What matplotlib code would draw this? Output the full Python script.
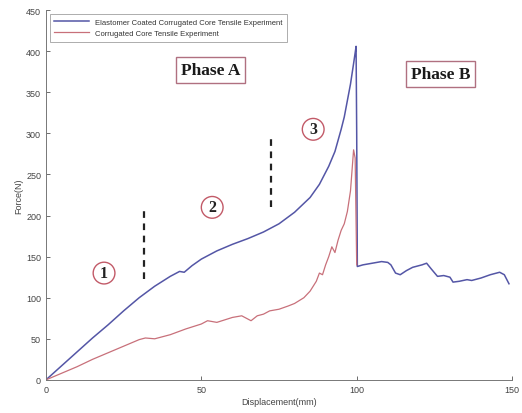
import matplotlib
matplotlib.use("Agg")
import matplotlib.pyplot as plt

# =========================
# DATA (force vs displacement)
# =========================
coated_x = [0, 5, 10, 15, 20, 25, 30, 35, 40, 43, 44.5, 47, 50, 55, 60, 65, 70,
            75, 80, 85, 88, 91, 93, 95, 96, 97, 98, 99, 99.5, 99.8, 100, 100.2,
            102, 105, 108, 110, 111, 112.5, 114, 116, 118, 121, 122.5, 124,
            126, 128, 130, 131, 133, 135.5, 137, 140, 143, 146, 147.5, 149]
coated_y = [0, 17, 34, 51, 67, 84, 100, 114, 126, 132, 131, 139, 147, 157, 165,
            172, 180, 190, 204, 222, 238, 260, 278, 305, 320, 340, 360, 385, 398,
            406, 300, 138, 140, 142, 144, 143, 140, 130, 128, 133, 137, 140, 142,
            135, 126, 127, 125, 119, 120, 122, 121, 124, 128, 131, 128, 117]

core_x = [0, 5, 10, 15, 20, 25, 30, 32, 35, 40, 45, 50, 52, 55, 60, 63, 65, 66,
          68, 70, 72, 75, 78, 80, 83, 85, 87, 88, 89, 90, 91, 92, 93, 94, 95,
          96, 97, 98, 98.5, 99, 99.5, 100]
core_y = [0, 8, 16, 25, 33, 41, 49, 51, 50, 55, 62, 68, 72, 70, 76, 78, 74, 72,
          78, 80, 84, 86, 90, 93, 100, 108, 120, 130, 128, 140, 150, 162, 155,
          170, 182, 190, 205, 230, 255, 280, 270, 140]

legend_labels = ["Elastomer Coated Corrugated Core Tensile Experiment",
                 "Corrugated Core Tensile Experiment"]

x_ticks = [0, 50, 100, 150]
y_ticks = [0, 50, 100, 150, 200, 250, 300, 350, 400, 450]

# stage markers: (x, y_bottom, y_top)
stage_lines = [(31.5, 123, 208), (72.5, 210, 295)]
stage_labels = ["1", "2", "3"]
stage_pos = [(18.7, 130), (53.5, 210), (86, 305)]
phase_labels = ["Phase A", "Phase B"]
phase_pos = [(53, 377), (127, 372)]

blue = "#5456a6"
red = "#c8707a"

plt.rcParams['font.family'] = ['Liberation Sans', 'DejaVu Sans']

fig = plt.figure(figsize=(5.22, 4.14), dpi=100)
ax = fig.add_axes([0.088, 0.080, 0.893, 0.893])

ax.plot(coated_x, coated_y, color=blue, linewidth=1.1, label=legend_labels[0])
ax.plot(core_x, core_y, color=red, linewidth=0.9, label=legend_labels[1])

for x, y0, y1 in stage_lines:
    ax.plot([x, x], [y0, y1], color="#222222", linestyle=(0, (3, 2.5)),
            linewidth=1.6)

for txt, (x, y) in zip(stage_labels, stage_pos):
    ax.text(x, y, txt, ha="center", va="center", fontsize=11.5, fontweight="bold",
            family="Liberation Serif", color="#222222",
            bbox=dict(boxstyle="circle,pad=0.18", facecolor="white",
                      edgecolor="#c25a68", linewidth=1.0))

for txt, (x, y) in zip(phase_labels, phase_pos):
    ax.text(x, y, txt, ha="center", va="center", fontsize=12.5, fontweight="bold",
            family="Liberation Serif", color="#1a1a1a",
            bbox=dict(boxstyle="square,pad=0.28", facecolor="white",
                      edgecolor="#b07080", linewidth=1.0))

ax.set_xlim(0, 150)
ax.set_ylim(0, 450)
ax.set_xticks(x_ticks)
ax.set_yticks(y_ticks)
ax.tick_params(direction="in", length=3, width=0.6, labelsize=6.5,
               colors="#555555", labelcolor="#444444")
ax.spines["top"].set_visible(False)
ax.spines["right"].set_visible(False)
for s in ("left", "bottom"):
    ax.spines[s].set_color("#777777")
    ax.spines[s].set_linewidth(0.7)

ax.set_xlabel("Displacement(mm)", fontsize=6.5, color="#444444", labelpad=2)
ax.set_ylabel("Force(N)", fontsize=6.5, color="#444444", labelpad=2)

leg = ax.legend(loc="upper left", fontsize=5.5, frameon=True, fancybox=False,
                handlelength=4.5, borderpad=0.6, labelspacing=0.5,
                bbox_to_anchor=(0.0, 1.0))
leg.get_frame().set_edgecolor("#888888")
leg.get_frame().set_linewidth(0.6)
for t in leg.get_texts():
    t.set_color("#333333")

fig.savefig("out.png", dpi=100)
